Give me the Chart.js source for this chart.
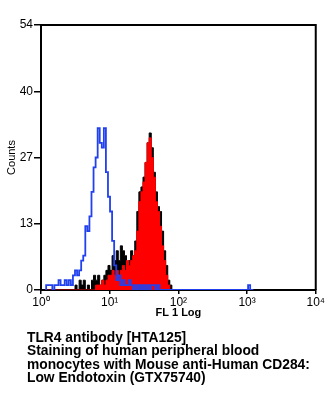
<!DOCTYPE html>
<html>
<head>
<meta charset="utf-8">
<script src="https://cdn.jsdelivr.net/npm/chart.js@4/dist/chart.umd.min.js"></script>
<style>
  html, body { margin: 0; padding: 0; background: #fff; }
  #wrap { position: relative; width: 326px; height: 400px; }
  #c { position: absolute; left: 0; top: 0; }
  #caption {
    position: absolute; left: 27px; top: 331px;
    font-family: "Liberation Sans", Arial, sans-serif; font-weight: bold;
    font-size: 13.8px; line-height: 13.4px; color: #000; white-space: nowrap;
  }
</style>
</head>
<body>
<div id="wrap">
  <canvas id="c" width="326" height="400"></canvas>
  <div id="caption">TLR4 antibody [HTA125]<br>Staining of human peripheral blood<br>monocytes with Mouse anti-Human CD284:<br>Low Endotoxin (GTX75740)</div>
</div>
<script>
// Histogram bins: log10 position of the first bin centre and bin width (in decades)
const binStartLog = 0.06;
const binStepLog = 0.03;

// Counts per bin
const blueCounts = [
  0,1,1,1,0,1,1,2,1,1, 2,1,2,1,3,4,3,4,6,7,
  13,12,15,20,25,27,33,30,29,33, 24,19,16,10,5,2,3,1,2,1,
  1,2,1,0,1,0,1,0,1,0, 1,0,1,1,0,1,0,0,0,0,
  0,0,0,0,0,0,0,0,0,0, 0,0,0,0,0,0,0,0,0,0,
  0,0,0,0,0,0,0,0,0,0, 0,0,0,0,0,0,0,0,0,1,
  0,0
];
const blackCounts = [
  0,0,0,0,0,0,0,0,0,0, 0,0,0,0,0,1,0,2,1,2,
  0,1,0,2,3,2,3,1,2,3, 4,5,4,7,6,8,6,9,8,7,
  5,6,8,7,10,16,20,21,23,26, 30,32,29,24,20,17,16,12,8,5,
  2,1,0,0,0,0,0,0,0,0, 0,0,0,0,0,0,0,0,0,0,
  0,0,0,0,0,0,0,0,0,0, 0,0,0,0,0,0,0,0,0,0,
  0,0
];
const redCounts = [
  0,0,0,0,0,0,0,0,0,0, 0,0,0,0,0,0,0,0,0,0,
  0,0,0,0,0,1,1,1,2,1, 2,3,3,4,3,4,3,4,5,4,
  6,5,6,7,8,12,18,20,22,26, 30,31,27,23,18,16,13,9,6,3,
  1,0,0,0,0,0,0,0,0,0, 0,0,0,0,0,0,0,0,0,0,
  0,0,0,0,0,0,0,0,0,0, 0,0,0,0,0,0,0,0,0,0,
  0,0
];

const xTickValues = [1, 10, 100, 1000, 10000];
const xTickLabels = ['10\u2070', '10\u00b9', '10\u00b2', '10\u00b3', '10\u2074'];
const yTickValues = [0, 13.5, 27, 40.5, 54];
const yTickLabels = ['0', '13', '27', '40', '54'];

const channels = blueCounts.map((_, i) => Math.pow(10, binStartLog + binStepLog * i));
const toPts = arr => arr.map((c, i) => ({ x: channels[i], y: c }));

const framePlugin = {
  id: 'frame',
  afterDraw(chart) {
    const { ctx, chartArea: a } = chart;
    ctx.save();
    ctx.strokeStyle = '#000';
    ctx.lineWidth = 2;
    ctx.beginPath();
    ctx.moveTo(a.left, a.top);
    ctx.lineTo(a.right, a.top);
    ctx.lineTo(a.right, a.bottom);
    ctx.stroke();
    ctx.restore();
  }
};

const tickFont = { family: "'Liberation Sans Narrow', 'Liberation Sans', Arial, sans-serif", size: 12 };

new Chart(document.getElementById('c'), {
  type: 'line',
  data: {
    datasets: [
      { label: 'Isotype', data: toPts(blueCounts), stepped: 'middle', borderColor: '#2140ee',
        borderWidth: 1.8, fill: false, pointRadius: 0 },
      { label: 'TLR4', data: toPts(redCounts), stepped: 'middle', borderColor: '#ff0000',
        borderWidth: 1, backgroundColor: '#ff0000', fill: 'origin', pointRadius: 0 },
      { label: 'Control', data: toPts(blackCounts), stepped: 'middle', borderColor: '#000',
        borderWidth: 1, backgroundColor: '#000', fill: 'origin', pointRadius: 0 }
    ]
  },
  options: {
    responsive: false,
    animation: false,
    layout: { padding: { left: 0, top: 25, right: 10, bottom: 80 } },
    plugins: { legend: { display: false }, tooltip: { enabled: false } },
    scales: {
      x: {
        type: 'logarithmic', min: 1, max: 10000, z: 1,
        afterBuildTicks: s => { s.ticks = xTickValues.map(v => ({ value: v })); },
        afterFit: s => { s.height = 30; },
        ticks: { callback: (v, i) => xTickLabels[i], color: '#000', font: tickFont,
                 padding: 1, maxRotation: 0, autoSkip: false },
        grid: { drawOnChartArea: false, drawTicks: true, tickLength: 4, color: '#000', lineWidth: 1.5 },
        border: { display: true, color: '#000', width: 2 },
        title: { display: true, text: 'FL 1 Log', color: '#000', padding: 0,
                 font: { family: "'Liberation Sans', Arial, sans-serif", size: 11, weight: 'bold' } }
      },
      y: {
        min: 0, max: 54, z: 1,
        afterBuildTicks: s => { s.ticks = yTickValues.map(v => ({ value: v })); },
        afterFit: s => { s.width = 41; },
        ticks: { callback: (v, i) => yTickLabels[i], color: '#000', font: tickFont, padding: 1 },
        grid: { drawOnChartArea: false, drawTicks: true, tickLength: 7, color: '#000', lineWidth: 1.5 },
        border: { display: true, color: '#000', width: 2 },
        title: { display: true, text: 'Counts', color: '#000', padding: { top: 5, bottom: 0 },
                 font: { family: "'Liberation Sans Narrow', 'Liberation Sans', Arial, sans-serif", size: 11 } }
      }
    }
  },
  plugins: [framePlugin]
});
</script>
</body>
</html>
